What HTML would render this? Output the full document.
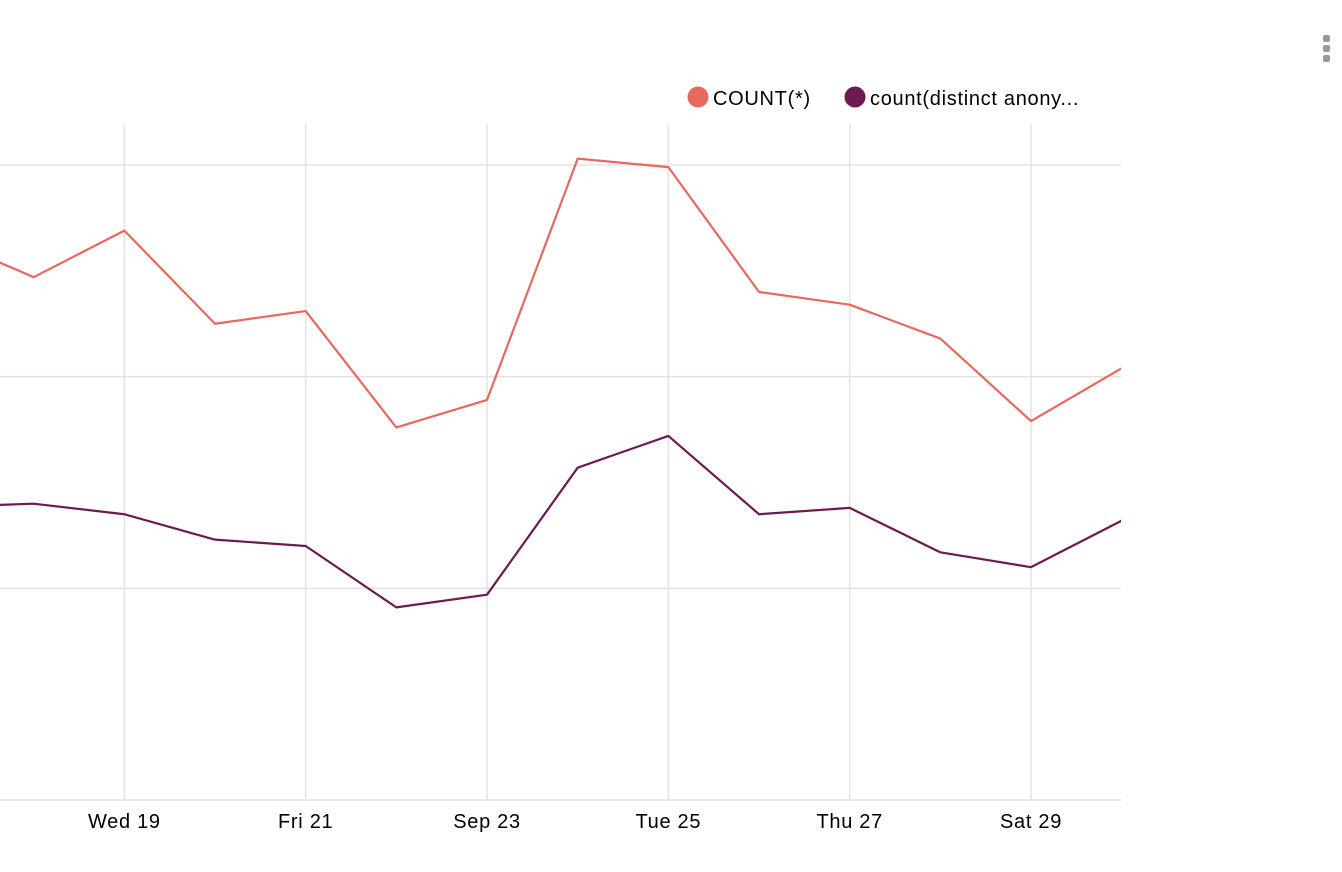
<!DOCTYPE html>
<html><head><meta charset="utf-8"><style>
html,body{margin:0;padding:0;background:#fff;width:1342px;height:872px;overflow:hidden;font-family:"Liberation Sans",sans-serif;}
svg text{font-family:"Liberation Sans",sans-serif;letter-spacing:0.7px;}
</style></head><body>
<svg id="chart" width="1342" height="872" xmlns="http://www.w3.org/2000/svg">
<defs><clipPath id="plotclip"><rect x="0" y="120" width="1121" height="690"/></clipPath></defs>
<g id="grid"></g>
<g id="series" clip-path="url(#plotclip)"></g>
<g id="xaxis"></g>
<g>
<g><circle cx="698" cy="97" r="10.5" fill="#e8685f"/><text x="713" y="105" font-size="20" fill="#000">COUNT(*)</text></g>
<g><circle cx="855" cy="97" r="10.5" fill="#6c1a4f"/><text x="870" y="105" font-size="20" fill="#000">count(distinct anony...</text></g>
</g>
<g fill="#999">
<rect x="1323" y="35" width="7" height="7" rx="2"/><rect x="1323" y="45" width="7" height="7" rx="2"/><rect x="1323" y="55" width="7" height="7" rx="2"/>
</g>
</svg>
<script>
const days = [0,1,2,3,4,5,6,7,8,9,10,11,12,13];
const countAll = [2.655,2.47,2.69,2.25,2.31,1.76,1.89,3.03,2.99,2.40,2.34,2.18,1.79,2.04];
const countDistinct = [1.385,1.40,1.35,1.23,1.20,0.91,0.97,1.57,1.72,1.35,1.38,1.17,1.10,1.32];
const yTicks = [0,1,2,3];
const xTickDays = [2,4,6,8,10,12];
const xTickLabels = ["Wed 19","Fri 21","Sep 23","Tue 25","Thu 27","Sat 29"];

const NS="http://www.w3.org/2000/svg";
function xs(d){return -57 + d*90.67;}
function ys(v){return 800 - v*211.67;}
const grid=document.getElementById('grid');
yTicks.forEach(t=>{
  const l=document.createElementNS(NS,'line');
  
  
  l.setAttribute('x1',0);l.setAttribute('x2',1121);
  l.setAttribute('y1',ys(t));l.setAttribute('y2',ys(t));
  l.setAttribute('stroke','#e3e3e3');l.setAttribute('stroke-width',1.5);
  grid.appendChild(l);
});
const xa=document.getElementById('xaxis');
xTickDays.forEach((d,i)=>{
  const l=document.createElementNS(NS,'line');
  
  
  l.setAttribute('x1',xs(d));l.setAttribute('x2',xs(d));
  l.setAttribute('y1',124);l.setAttribute('y2',800);
  l.setAttribute('stroke','#e3e3e3');l.setAttribute('stroke-width',1.5);
  grid.appendChild(l);
  const t=document.createElementNS(NS,'text');
  
  
  t.setAttribute('x',xs(d));t.setAttribute('y',828);
  t.setAttribute('text-anchor','middle');t.setAttribute('font-size','20');
  t.textContent=xTickLabels[i];
  xa.appendChild(t);
});
const sg=document.getElementById('series');
function line(vals,color,name){
  const p=document.createElementNS(NS,'polyline');
  
  
  p.setAttribute('points',vals.map((v,i)=>xs(days[i])+','+ys(v)).join(' '));
  p.setAttribute('fill','none');p.setAttribute('stroke',color);p.setAttribute('stroke-width',2.2);
  p.setAttribute('stroke-linejoin','round');
  sg.appendChild(p);
}
line(countAll,'#e8685f','count-all-line');
line(countDistinct,'#6c1a4f','count-distinct-line');
</script>
</body></html>
